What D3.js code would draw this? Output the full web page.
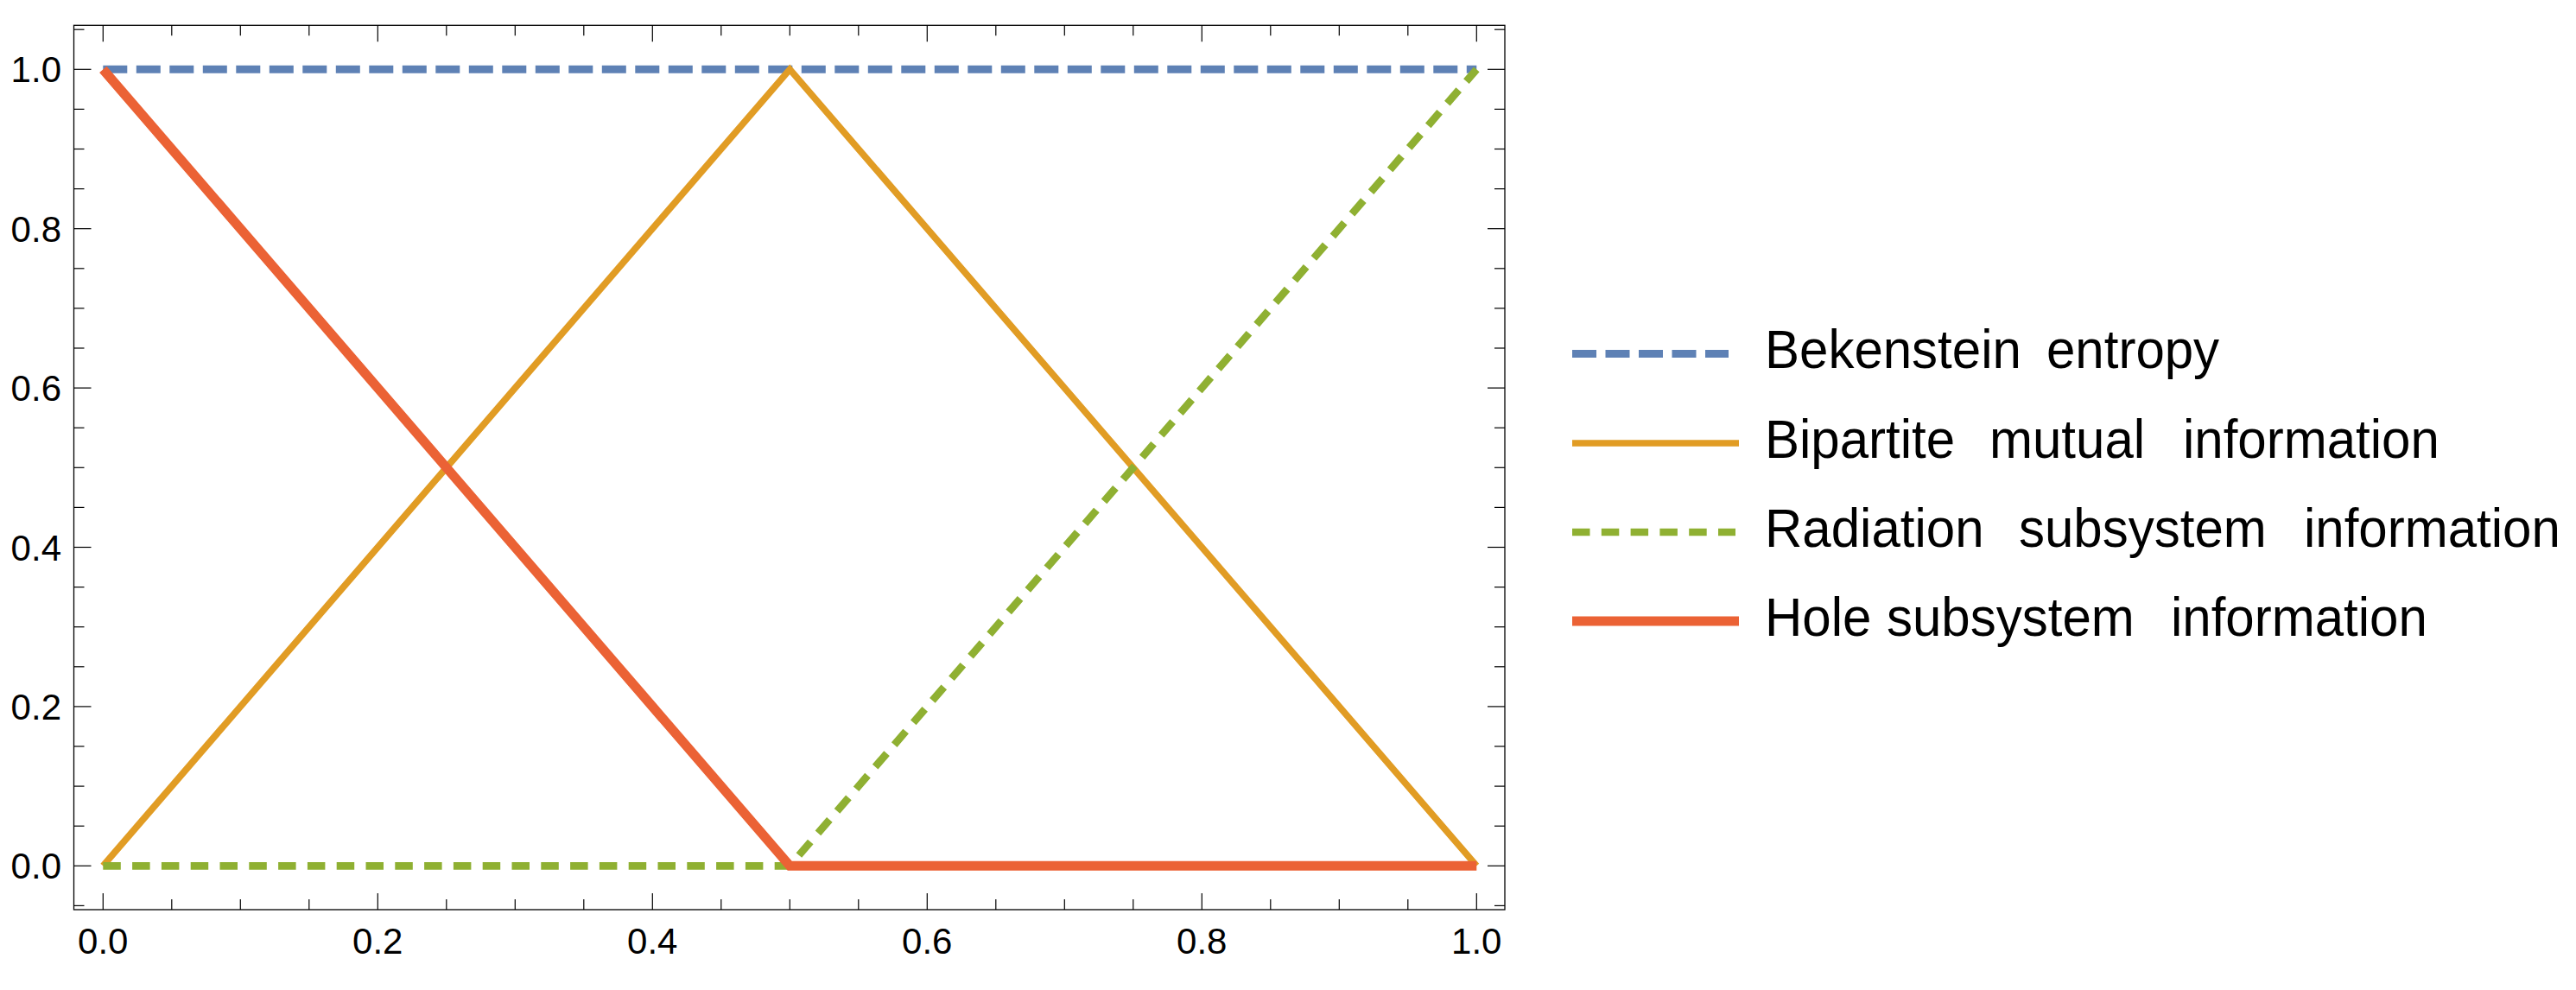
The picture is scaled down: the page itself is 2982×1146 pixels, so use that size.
<!DOCTYPE html>
<html><head><meta charset="utf-8">
<script src="https://cdn.jsdelivr.net/npm/d3@7"></script>
<style>body{margin:0;background:#fff}svg{display:block}text{font-family:"Liberation Sans",Arial,sans-serif}</style>
</head><body>
<svg id="c" width="2982" height="1146"></svg>
<script>
const seriesNames = ["Bekenstein  entropy","Bipartite  mutual  information","Radiation  subsystem  information","Hole subsystem  information"];
const bekenstein = [[0,1],[1,1]];
const bipartite = [[0,0],[0.5,1],[1,0]];
const radiation = [[0,0],[0.5,0],[1,1]];
const hole = [[0,1],[0.5,0],[1,0]];
const majorTicks = [0,0.2,0.4,0.6,0.8,1.0];
const minorTicks = d3.range(-0.05,1.06,0.05).map(v=>+v.toFixed(2));
const colors = ["#5E81B5","#E19C24","#8FB032","#EB6235"];

// layout (word start positions in the legend, pixels)
const legendWordX = [[2043,2369],[2043,2303,2527],[2043,2337,2667],[2043,2184,2513]];

const svg = d3.select("#c");
const frame = {l:85.5, r:1742, t:29.3, b:1053};
const x = d3.scaleLinear().domain([0,1]).range([119.3,1709.3]);
const y = d3.scaleLinear().domain([0,1]).range([1002.3,80.3]);

svg.append("rect").attr("x",frame.l).attr("y",frame.t).attr("width",frame.r-frame.l).attr("height",frame.b-frame.t)
  .attr("fill","none").attr("stroke","#000").attr("stroke-width",1.3);

const g = svg.append("g");
const inX = v => x(v)>=frame.l && x(v)<=frame.r;
const inY = v => y(v)>=frame.t && y(v)<=frame.b;
const isMajor = v => majorTicks.some(m=>Math.abs(m-v)<1e-6);
minorTicks.filter(inX).forEach(v=>{
  const L = isMajor(v)?19:12;
  g.append("line").attr("x1",x(v)).attr("x2",x(v)).attr("y1",frame.b).attr("y2",frame.b-L).attr("stroke","#000").attr("stroke-width",1.2);
  g.append("line").attr("x1",x(v)).attr("x2",x(v)).attr("y1",frame.t).attr("y2",frame.t+L).attr("stroke","#000").attr("stroke-width",1.2);
});
minorTicks.filter(inY).forEach(v=>{
  const L = isMajor(v)?20:12;
  g.append("line").attr("y1",y(v)).attr("y2",y(v)).attr("x1",frame.l).attr("x2",frame.l+L).attr("stroke","#000").attr("stroke-width",1.2);
  g.append("line").attr("y1",y(v)).attr("y2",y(v)).attr("x1",frame.r).attr("x2",frame.r-L).attr("stroke","#000").attr("stroke-width",1.2);
});
const fmt = d3.format(".1f");
majorTicks.forEach(v=>{
  svg.append("text").attr("x",x(v)).attr("y",1104).attr("text-anchor","middle").attr("font-size",42).text(fmt(v));
  svg.append("text").attr("x",71).attr("y",y(v)+15).attr("text-anchor","end").attr("font-size",42).text(fmt(v));
});

const line = d3.line().x(d=>x(d[0])).y(d=>y(d[1]));
const styles = [
  {w:9, dash:"28,10.5"},
  {w:7.7, dash:null},
  {w:8.7, dash:"20.5,13.3"},
  {w:11, dash:null}
];
[bekenstein,bipartite,radiation,hole].forEach((d,i)=>{
  svg.append("path").datum(d).attr("d",line).attr("fill","none").attr("stroke",colors[i])
    .attr("stroke-width",styles[i].w).attr("stroke-dasharray",styles[i].dash).attr("stroke-linejoin","miter");
});

// legend
const ly = [409.5,513,616,719];
const lx2 = [2001,2013,2009,2013];
seriesNames.forEach((n,i)=>{
  svg.append("line").attr("x1",1820).attr("x2",lx2[i]).attr("y1",ly[i]).attr("y2",ly[i])
    .attr("stroke",colors[i]).attr("stroke-width",styles[i].w).attr("stroke-dasharray",styles[i].dash);
  const words = n.split(/\s+/);
  const t = svg.append("text").attr("font-size",62).attr("transform",`translate(0,${ly[i]+16.8}) scale(0.968,1)`);
  words.forEach((w,k)=>{
    t.append("tspan").attr("x",legendWordX[i][k]/0.968).attr("y",0).text(w);
  });
});
</script>
</body></html>
